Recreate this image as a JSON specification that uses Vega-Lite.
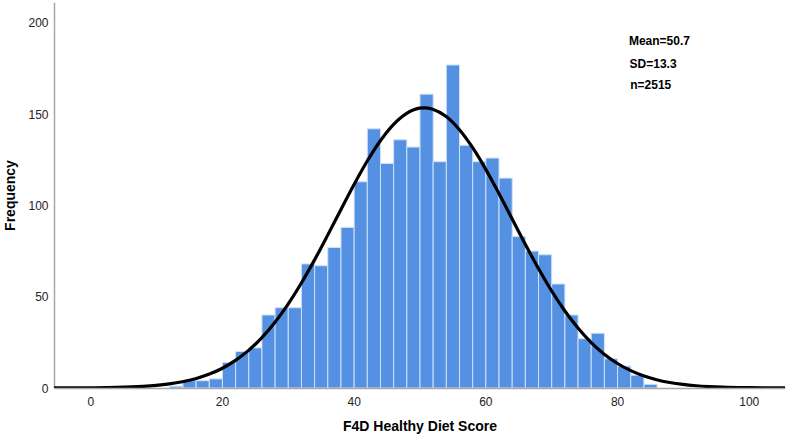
{
  "$schema": "https://vega.github.io/schema/vega-lite/v6.json",
  "width": 731,
  "height": 386,
  "autosize": {"type": "none"},
  "padding": {"left": 54, "top": 2, "right": 2, "bottom": 53},
  "background": "white",
  "config": {
    "view": {"stroke": null},
    "font": "Liberation Sans",
    "axis": {"grid": false, "ticks": false, "labelFont": "Liberation Sans", "labelFontSize": 12, "labelColor": "#222", "titleFont": "Liberation Sans", "titleFontSize": 14, "titleFontWeight": "bold", "titleColor": "#000", "domainColor": "#a8a8a8", "domainWidth": 1.5}
  },
  "datasets": {
    "bars": [
      {"start": 12, "end": 14, "count": 1},
      {"start": 14, "end": 16, "count": 4},
      {"start": 16, "end": 18, "count": 4},
      {"start": 18, "end": 20, "count": 5},
      {"start": 20, "end": 22, "count": 14},
      {"start": 22, "end": 24, "count": 20},
      {"start": 24, "end": 26, "count": 22},
      {"start": 26, "end": 28, "count": 40},
      {"start": 28, "end": 30, "count": 44},
      {"start": 30, "end": 32, "count": 44},
      {"start": 32, "end": 34, "count": 68},
      {"start": 34, "end": 36, "count": 67},
      {"start": 36, "end": 38, "count": 77},
      {"start": 38, "end": 40, "count": 88},
      {"start": 40, "end": 42, "count": 113},
      {"start": 42, "end": 44, "count": 142},
      {"start": 44, "end": 46, "count": 123},
      {"start": 46, "end": 48, "count": 136},
      {"start": 48, "end": 50, "count": 132},
      {"start": 50, "end": 52, "count": 161},
      {"start": 52, "end": 54, "count": 124},
      {"start": 54, "end": 56, "count": 177},
      {"start": 56, "end": 58, "count": 133},
      {"start": 58, "end": 60, "count": 124},
      {"start": 60, "end": 62, "count": 126},
      {"start": 62, "end": 64, "count": 115},
      {"start": 64, "end": 66, "count": 83},
      {"start": 66, "end": 68, "count": 75},
      {"start": 68, "end": 70, "count": 73},
      {"start": 70, "end": 72, "count": 57},
      {"start": 72, "end": 74, "count": 40},
      {"start": 74, "end": 76, "count": 27},
      {"start": 76, "end": 78, "count": 30},
      {"start": 78, "end": 80, "count": 16},
      {"start": 80, "end": 82, "count": 12},
      {"start": 82, "end": 84, "count": 7},
      {"start": 84, "end": 86, "count": 2}
    ],
    "curve": [
      {"score": -6, "freq": 0.02},
      {"score": -4, "freq": 0.03},
      {"score": 0, "freq": 0.11},
      {"score": 4, "freq": 0.32},
      {"score": 8, "freq": 0.89},
      {"score": 10, "freq": 1.42},
      {"score": 12, "freq": 2.23},
      {"score": 14, "freq": 3.41},
      {"score": 16, "freq": 5.11},
      {"score": 18, "freq": 7.47},
      {"score": 20, "freq": 10.7},
      {"score": 22, "freq": 14.97},
      {"score": 24, "freq": 20.46},
      {"score": 26, "freq": 27.37},
      {"score": 28, "freq": 35.78},
      {"score": 30, "freq": 45.73},
      {"score": 32, "freq": 57.13},
      {"score": 34, "freq": 69.79},
      {"score": 36, "freq": 83.35},
      {"score": 38, "freq": 97.31},
      {"score": 40, "freq": 111.09},
      {"score": 42, "freq": 123.95},
      {"score": 44, "freq": 135.22},
      {"score": 46, "freq": 144.23},
      {"score": 48, "freq": 150.39},
      {"score": 50, "freq": 153.31},
      {"score": 50.7, "freq": 153.5},
      {"score": 52, "freq": 152.78},
      {"score": 54, "freq": 148.86},
      {"score": 56, "freq": 141.8},
      {"score": 58, "freq": 132.06},
      {"score": 60, "freq": 120.22},
      {"score": 62, "freq": 107.0},
      {"score": 64, "freq": 93.11},
      {"score": 66, "freq": 79.21},
      {"score": 68, "freq": 65.87},
      {"score": 70, "freq": 53.56},
      {"score": 72, "freq": 42.59},
      {"score": 74, "freq": 33.1},
      {"score": 76, "freq": 25.15},
      {"score": 78, "freq": 18.66},
      {"score": 80, "freq": 13.56},
      {"score": 82, "freq": 9.63},
      {"score": 84, "freq": 6.69},
      {"score": 86, "freq": 4.53},
      {"score": 88, "freq": 3.01},
      {"score": 90, "freq": 1.95},
      {"score": 92, "freq": 1.23},
      {"score": 94, "freq": 0.77},
      {"score": 96, "freq": 0.46},
      {"score": 100, "freq": 0.16},
      {"score": 104, "freq": 0.05},
      {"score": 106, "freq": 0.03}
    ],
    "stats": [
      {"label": "Mean=50.7", "x": 81.8, "y": 190},
      {"label": "SD=13.3", "x": 81.9, "y": 177.5},
      {"label": "n=2515", "x": 82.0, "y": 166}
    ]
  },
  "layer": [
    {
      "data": {"name": "bars"},
      "mark": {"type": "rect", "color": "#5591e3", "stroke": "#cfe0f7", "strokeWidth": 1},
      "encoding": {
        "x": {"field": "start", "type": "quantitative", "bin": "binned",
              "scale": {"domain": [-5.5, 105.5], "nice": false, "zero": false},
              "axis": {"title": "F4D Healthy Diet Score", "values": [0, 20, 40, 60, 80, 100], "labelPadding": 8, "titlePadding": 12, "format": "d"}},
        "x2": {"field": "end"},
        "y": {"field": "count", "type": "quantitative",
              "scale": {"domain": [0, 211.5], "nice": false},
              "axis": {"title": "Frequency", "values": [0, 50, 100, 150, 200], "labelPadding": 6, "titlePadding": 10}}
      }
    },
    {
      "data": {"name": "curve"},
      "mark": {"type": "line", "color": "#000", "strokeWidth": 3.2, "interpolate": "monotone", "clip": true},
      "encoding": {
        "x": {"field": "score", "type": "quantitative"},
        "y": {"field": "freq", "type": "quantitative"}
      }
    },
    {
      "data": {"name": "stats"},
      "mark": {"type": "text", "align": "left", "baseline": "middle", "fontSize": 12, "fontWeight": "bold", "color": "#000", "font": "Liberation Sans"},
      "encoding": {
        "x": {"field": "x", "type": "quantitative"},
        "y": {"field": "y", "type": "quantitative"},
        "text": {"field": "label"}
      }
    }
  ]
}
